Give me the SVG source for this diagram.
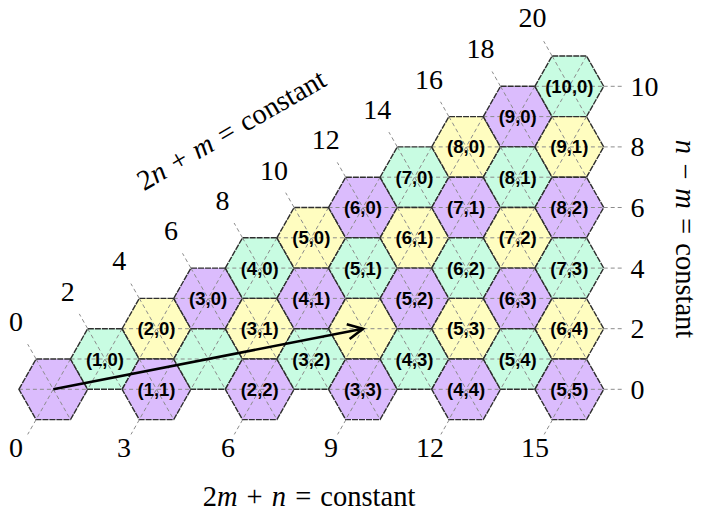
<svg xmlns="http://www.w3.org/2000/svg" xmlns:xlink="http://www.w3.org/1999/xlink" width="701" height="511" viewBox="0 0 701 511">
<style>
.p{fill:#dbbcfd}
.g{fill:#c8fce2}
.y{fill:#fffdc0}
.dg{fill:none;stroke:#8c8c8c;stroke-width:1;stroke-dasharray:4 3}
.bd{fill:none;stroke:#2e2e2e;stroke-width:1.4;stroke-dasharray:6 1}
.lb{font-family:"Liberation Sans",Arial,sans-serif;font-weight:bold;font-size:18.5px;text-anchor:middle;fill:#000}
.num{font-family:"Liberation Serif","Times New Roman",serif;font-size:28px;fill:#000}
.mid{text-anchor:middle}
.ld{fill:none;stroke:#8c8c8c;stroke-width:1;stroke-dasharray:4 3}
.ttl{font-family:"Liberation Serif","Times New Roman",serif;font-size:28.5px;fill:#000;text-anchor:middle;word-spacing:2px}
.it{font-style:italic}
</style>
<defs>
<path id="hx" d="M-34.4,0 L-17.2,-30.3 L17.2,-30.3 L34.4,0 L17.2,30.3 L-17.2,30.3 Z"/>
<path id="dgl" d="M-34.4,0 H34.4 M-17.2,-30.3 L17.2,30.3 M17.2,-30.3 L-17.2,30.3"/>
<marker id="ah" markerUnits="userSpaceOnUse" markerWidth="24" markerHeight="22" refX="16" refY="9" orient="auto" overflow="visible">
<path d="M1,1.5 L16,9 L1,16.5" fill="none" stroke="#000" stroke-width="2.6"/>
</marker>
</defs>

<g id="hexes">
<g id="h0-0" transform="translate(53.3,389.3)"><use xlink:href="#hx" class="p"/><use xlink:href="#dgl" class="dg"/><use xlink:href="#hx" class="bd"/></g>
<g id="h1-0" transform="translate(104.9,359)"><use xlink:href="#hx" class="g"/><use xlink:href="#dgl" class="dg"/><use xlink:href="#hx" class="bd"/><text class="lb" y="6.5">(1,0)</text></g>
<g id="h2-0" transform="translate(156.5,328.7)"><use xlink:href="#hx" class="y"/><use xlink:href="#dgl" class="dg"/><use xlink:href="#hx" class="bd"/><text class="lb" y="6.5">(2,0)</text></g>
<g id="h1-1" transform="translate(156.5,389.3)"><use xlink:href="#hx" class="p"/><use xlink:href="#dgl" class="dg"/><use xlink:href="#hx" class="bd"/><text class="lb" y="6.5">(1,1)</text></g>
<g id="h3-0" transform="translate(208.1,298.4)"><use xlink:href="#hx" class="p"/><use xlink:href="#dgl" class="dg"/><use xlink:href="#hx" class="bd"/><text class="lb" y="6.5">(3,0)</text></g>
<g id="h2-1" transform="translate(208.1,359)"><use xlink:href="#hx" class="g"/><use xlink:href="#dgl" class="dg"/><use xlink:href="#hx" class="bd"/></g>
<g id="h4-0" transform="translate(259.7,268.1)"><use xlink:href="#hx" class="g"/><use xlink:href="#dgl" class="dg"/><use xlink:href="#hx" class="bd"/><text class="lb" y="6.5">(4,0)</text></g>
<g id="h3-1" transform="translate(259.7,328.7)"><use xlink:href="#hx" class="y"/><use xlink:href="#dgl" class="dg"/><use xlink:href="#hx" class="bd"/><text class="lb" y="6.5">(3,1)</text></g>
<g id="h2-2" transform="translate(259.7,389.3)"><use xlink:href="#hx" class="p"/><use xlink:href="#dgl" class="dg"/><use xlink:href="#hx" class="bd"/><text class="lb" y="6.5">(2,2)</text></g>
<g id="h5-0" transform="translate(311.3,237.8)"><use xlink:href="#hx" class="y"/><use xlink:href="#dgl" class="dg"/><use xlink:href="#hx" class="bd"/><text class="lb" y="6.5">(5,0)</text></g>
<g id="h4-1" transform="translate(311.3,298.4)"><use xlink:href="#hx" class="p"/><use xlink:href="#dgl" class="dg"/><use xlink:href="#hx" class="bd"/><text class="lb" y="6.5">(4,1)</text></g>
<g id="h3-2" transform="translate(311.3,359)"><use xlink:href="#hx" class="g"/><use xlink:href="#dgl" class="dg"/><use xlink:href="#hx" class="bd"/><text class="lb" y="6.5">(3,2)</text></g>
<g id="h6-0" transform="translate(362.9,207.5)"><use xlink:href="#hx" class="p"/><use xlink:href="#dgl" class="dg"/><use xlink:href="#hx" class="bd"/><text class="lb" y="6.5">(6,0)</text></g>
<g id="h5-1" transform="translate(362.9,268.1)"><use xlink:href="#hx" class="g"/><use xlink:href="#dgl" class="dg"/><use xlink:href="#hx" class="bd"/><text class="lb" y="6.5">(5,1)</text></g>
<g id="h4-2" transform="translate(362.9,328.7)"><use xlink:href="#hx" class="y"/><use xlink:href="#dgl" class="dg"/><use xlink:href="#hx" class="bd"/></g>
<g id="h3-3" transform="translate(362.9,389.3)"><use xlink:href="#hx" class="p"/><use xlink:href="#dgl" class="dg"/><use xlink:href="#hx" class="bd"/><text class="lb" y="6.5">(3,3)</text></g>
<g id="h7-0" transform="translate(414.5,177.2)"><use xlink:href="#hx" class="g"/><use xlink:href="#dgl" class="dg"/><use xlink:href="#hx" class="bd"/><text class="lb" y="6.5">(7,0)</text></g>
<g id="h6-1" transform="translate(414.5,237.8)"><use xlink:href="#hx" class="y"/><use xlink:href="#dgl" class="dg"/><use xlink:href="#hx" class="bd"/><text class="lb" y="6.5">(6,1)</text></g>
<g id="h5-2" transform="translate(414.5,298.4)"><use xlink:href="#hx" class="p"/><use xlink:href="#dgl" class="dg"/><use xlink:href="#hx" class="bd"/><text class="lb" y="6.5">(5,2)</text></g>
<g id="h4-3" transform="translate(414.5,359)"><use xlink:href="#hx" class="g"/><use xlink:href="#dgl" class="dg"/><use xlink:href="#hx" class="bd"/><text class="lb" y="6.5">(4,3)</text></g>
<g id="h8-0" transform="translate(466.1,146.9)"><use xlink:href="#hx" class="y"/><use xlink:href="#dgl" class="dg"/><use xlink:href="#hx" class="bd"/><text class="lb" y="6.5">(8,0)</text></g>
<g id="h7-1" transform="translate(466.1,207.5)"><use xlink:href="#hx" class="p"/><use xlink:href="#dgl" class="dg"/><use xlink:href="#hx" class="bd"/><text class="lb" y="6.5">(7,1)</text></g>
<g id="h6-2" transform="translate(466.1,268.1)"><use xlink:href="#hx" class="g"/><use xlink:href="#dgl" class="dg"/><use xlink:href="#hx" class="bd"/><text class="lb" y="6.5">(6,2)</text></g>
<g id="h5-3" transform="translate(466.1,328.7)"><use xlink:href="#hx" class="y"/><use xlink:href="#dgl" class="dg"/><use xlink:href="#hx" class="bd"/><text class="lb" y="6.5">(5,3)</text></g>
<g id="h4-4" transform="translate(466.1,389.3)"><use xlink:href="#hx" class="p"/><use xlink:href="#dgl" class="dg"/><use xlink:href="#hx" class="bd"/><text class="lb" y="6.5">(4,4)</text></g>
<g id="h9-0" transform="translate(517.7,116.6)"><use xlink:href="#hx" class="p"/><use xlink:href="#dgl" class="dg"/><use xlink:href="#hx" class="bd"/><text class="lb" y="6.5">(9,0)</text></g>
<g id="h8-1" transform="translate(517.7,177.2)"><use xlink:href="#hx" class="g"/><use xlink:href="#dgl" class="dg"/><use xlink:href="#hx" class="bd"/><text class="lb" y="6.5">(8,1)</text></g>
<g id="h7-2" transform="translate(517.7,237.8)"><use xlink:href="#hx" class="y"/><use xlink:href="#dgl" class="dg"/><use xlink:href="#hx" class="bd"/><text class="lb" y="6.5">(7,2)</text></g>
<g id="h6-3" transform="translate(517.7,298.4)"><use xlink:href="#hx" class="p"/><use xlink:href="#dgl" class="dg"/><use xlink:href="#hx" class="bd"/><text class="lb" y="6.5">(6,3)</text></g>
<g id="h5-4" transform="translate(517.7,359)"><use xlink:href="#hx" class="g"/><use xlink:href="#dgl" class="dg"/><use xlink:href="#hx" class="bd"/><text class="lb" y="6.5">(5,4)</text></g>
<g id="h10-0" transform="translate(569.3,86.3)"><use xlink:href="#hx" class="g"/><use xlink:href="#dgl" class="dg"/><use xlink:href="#hx" class="bd"/><text class="lb" y="6.5">(10,0)</text></g>
<g id="h9-1" transform="translate(569.3,146.9)"><use xlink:href="#hx" class="y"/><use xlink:href="#dgl" class="dg"/><use xlink:href="#hx" class="bd"/><text class="lb" y="6.5">(9,1)</text></g>
<g id="h8-2" transform="translate(569.3,207.5)"><use xlink:href="#hx" class="p"/><use xlink:href="#dgl" class="dg"/><use xlink:href="#hx" class="bd"/><text class="lb" y="6.5">(8,2)</text></g>
<g id="h7-3" transform="translate(569.3,268.1)"><use xlink:href="#hx" class="g"/><use xlink:href="#dgl" class="dg"/><use xlink:href="#hx" class="bd"/><text class="lb" y="6.5">(7,3)</text></g>
<g id="h6-4" transform="translate(569.3,328.7)"><use xlink:href="#hx" class="y"/><use xlink:href="#dgl" class="dg"/><use xlink:href="#hx" class="bd"/><text class="lb" y="6.5">(6,4)</text></g>
<g id="h5-5" transform="translate(569.3,389.3)"><use xlink:href="#hx" class="p"/><use xlink:href="#dgl" class="dg"/><use xlink:href="#hx" class="bd"/><text class="lb" y="6.5">(5,5)</text></g>
</g>

<g id="leaders">
<path class="ld" d="M36.1,359 L27.7,344.2 M87.7,328.7 L79.3,313.9 M139.3,298.4 L130.9,283.6 M190.9,268.1 L182.5,253.3 M242.5,237.8 L234.1,223 M294.1,207.5 L285.7,192.7 M345.7,177.2 L337.3,162.4 M397.3,146.9 L388.9,132.1 M448.9,116.6 L440.5,101.8 M500.5,86.3 L492.1,71.5 M552.1,56 L543.7,41.2"/>
<path class="ld" d="M603.7,86.3 H622 M603.7,146.9 H622 M603.7,207.5 H622 M603.7,268.1 H622 M603.7,328.7 H622 M603.7,389.3 H622"/>
<path class="ld" d="M36.1,419.6 L27.7,434.4 M139.4,419.6 L131,434.4 M242.7,419.6 L234.3,434.4 M346,419.6 L337.6,434.4 M449.3,419.6 L440.9,434.4 M552.6,419.6 L544.2,434.4"/>
</g>

<g id="connectors">
<line x1="53.3" y1="389.3" x2="362.9" y2="328.7" stroke="#000" stroke-width="2.6" marker-end="url(#ah)"/>
</g>

<g id="labels-2n-m" class="num mid">
<text x="16" y="331">0</text>
<text x="67.7" y="300.7">2</text>
<text x="119.3" y="270.4">4</text>
<text x="170.9" y="240.1">6</text>
<text x="222.5" y="209.8">8</text>
<text x="274.1" y="179.5">10</text>
<text x="325.7" y="149.2">12</text>
<text x="377.3" y="118.9">14</text>
<text x="428.9" y="88.6">16</text>
<text x="480.5" y="58.3">18</text>
<text x="532.6" y="27">20</text>
</g>

<g id="labels-n-m" class="num">
<text x="630.5" y="95.8">10</text>
<text x="630.5" y="156.4">8</text>
<text x="630.5" y="217">6</text>
<text x="630.5" y="277.6">4</text>
<text x="630.5" y="338.2">2</text>
<text x="630.5" y="398.8">0</text>
</g>

<g id="labels-2m-n" class="num mid">
<text x="16" y="456.5">0</text>
<text x="124" y="456.5">3</text>
<text x="228" y="456.5">6</text>
<text x="331" y="456.5">9</text>
<text x="430" y="456.5">12</text>
<text x="535" y="456.5">15</text>
</g>

<g id="titles">
<text class="ttl" transform="translate(236,138) rotate(-30)">2<tspan class="it">n</tspan> + <tspan class="it">m</tspan> = constant</text>
<text class="ttl" transform="translate(676,239) rotate(90)"><tspan class="it">n</tspan> − <tspan class="it">m</tspan> = constant</text>
<text class="ttl" x="309" y="506">2<tspan class="it">m</tspan> + <tspan class="it">n</tspan> = constant</text>
</g>
</svg>
